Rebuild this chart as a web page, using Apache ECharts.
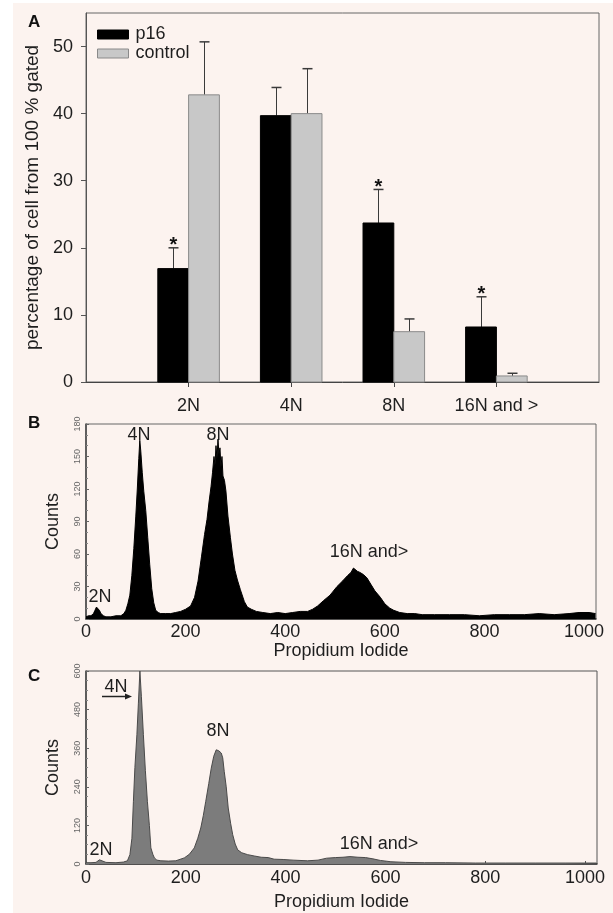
<!DOCTYPE html>
<html>
<head>
<meta charset="utf-8">
<script src="https://cdn.jsdelivr.net/npm/echarts@6/dist/echarts.min.js"></script>
<style>
html, body { margin: 0; padding: 0; background: #fff; }
#main { width: 613px; height: 913px; }
</style>
</head>
<body>
<div id="main"></div>
<script>
// panel A: percentage of gated cells per ploidy class
var categories = ['2N', '4N', '8N', '16N and >'];
var p16Values = [16.9, 39.7, 23.7, 8.2];
var p16Errors = [3.1, 4.2, 5.0, 4.5];
var p16Star = [true, false, true, true];
var controlValues = [42.8, 40.0, 7.5, 0.9];
var controlErrors = [7.9, 6.7, 1.9, 0.4];
var controlStar = [false, false, false, false];
var pctTicks = [0, 10, 20, 30, 40, 50];

// panel B: p16 histogram (channel, counts)
var histBChannel = [
  0, 5, 10, 15, 18, 21, 24, 27, 30, 35,
  40, 50, 60, 70, 76, 80, 84, 88, 92, 96,
  100, 103, 106, 108, 110, 113, 116, 120, 124, 128,
  132, 136, 140, 145, 150, 160, 170, 180, 190, 200,
  210, 218, 225, 232, 238, 243, 247, 251, 254, 257,
  259, 261, 263, 265, 267, 269, 271, 273, 275, 278,
  281, 285, 290, 294, 299, 304, 310, 318, 324, 332,
  342, 355, 370, 385, 400, 415, 430, 445, 455, 465,
  477, 490, 504, 515, 525, 532, 537, 541, 545, 550,
  557, 564, 572, 580, 591, 600, 610, 618, 630, 645,
  660, 675, 700, 730, 760, 790, 820, 850, 880, 910,
  940, 970, 990, 1010, 1023
];
var histBCounts = [
  2, 3, 3, 5, 8, 11, 11, 8, 5, 3,
  2, 2, 3, 3, 5, 8, 14, 22, 40, 65,
  95, 120, 148, 165, 155, 135, 118, 100, 75, 50,
  28, 15, 8, 6, 5, 5, 5, 6, 7, 9,
  12, 20, 35, 58, 78, 92, 108, 122, 135, 150,
  142, 160, 148, 166, 152, 158, 140, 150, 132, 128,
  118, 95, 75, 60, 45, 36, 27, 16, 11, 9,
  7, 6, 5, 6, 5, 6, 7, 7, 9, 12,
  17, 22, 30, 35, 40, 43, 47, 48, 44, 43,
  41, 38, 32, 26, 20, 14, 10, 8, 6, 5,
  5, 4, 4, 4, 4, 3, 4, 4, 4, 5,
  4, 5, 6, 6, 5
];

// panel C: control histogram (channel, counts)
var histCChannel = [
  0, 10, 20, 24, 27, 30, 40, 60, 75, 83,
  88, 92, 95, 98, 102, 105, 108, 111, 115, 119,
  123, 127, 130, 134, 137, 142, 150, 165, 180, 197,
  207, 217, 224, 230, 235, 240, 246, 251, 256, 261,
  264, 266, 268, 271, 274, 277, 281, 285, 290, 294,
  299, 304, 312, 324, 337, 351, 365, 377, 395, 415,
  444, 465, 482, 500, 515, 529, 545, 560, 575, 590,
  611, 640, 678, 720, 780, 840, 900, 960, 1023
];
var histCCounts = [
  4, 4, 5, 10, 13, 8, 5, 4, 6, 10,
  29, 80, 195, 300, 402, 500, 600, 520, 402, 290,
  195, 120, 50, 30, 19, 12, 10, 9, 10, 19,
  30, 50, 80, 112, 150, 195, 250, 298, 335, 355,
  360, 352, 358, 345, 330, 288, 240, 174, 125, 91,
  62, 44, 35, 29, 25, 21, 20, 15, 14, 12,
  10, 12, 18, 20, 21, 23, 21, 20, 16, 11,
  7, 5, 4, 4, 3, 3, 3, 3, 3
];
var channelTicks = [0, 200, 400, 600, 800, 1000];

var FONT = 'Liberation Sans, Arial, sans-serif';
var TXT = '#1e1e1e';

function pairs(xs, ys) {
  return xs.map(function (x, i) { return [x, ys[i]]; });
}

function plain(v) { return String(v); }

// bar + upper error bar + asterisk
function barItem(side, fill, stroke, errors, stars) {
  return function (params, api) {
    var i = params.dataIndex;
    var x = api.value(0), v = api.value(1);
    var x0 = side < 0 ? x - 0.3 : x;
    var x1 = side < 0 ? x : x + 0.3;
    var pTop = api.coord([x0, v]);
    var pBot = api.coord([x1, 0]);
    var pErr = api.coord([(x0 + x1) / 2, v + errors[i]]);
    var cx = Math.round(pErr[0]) + 0.5;
    var children = [
      { type: 'line', shape: { x1: cx, y1: pTop[1], x2: cx, y2: pErr[1] }, style: { stroke: '#3a3a3a', lineWidth: 1 } },
      { type: 'line', shape: { x1: cx - 5, y1: pErr[1], x2: cx + 5, y2: pErr[1] }, style: { stroke: '#3a3a3a', lineWidth: 1.5 } },
      { type: 'rect', shape: { x: pTop[0], y: pTop[1], width: pBot[0] - pTop[0], height: pBot[1] - pTop[1] },
        style: { fill: fill, stroke: stroke, lineWidth: 1 } }
    ];
    if (stars[i]) {
      children.push({ type: 'text', x: cx, y: pErr[1] - 2,
        style: { text: '*', font: 'bold 20px ' + FONT, fill: '#111', align: 'center', verticalAlign: 'middle' } });
    }
    return { type: 'group', children: children };
  };
}

var myChart = echarts.init(document.getElementById('main'), null, { renderer: 'canvas' });

var option = {
  backgroundColor: '#fff',
  animation: false,
  textStyle: { fontFamily: FONT },
  graphic: [
    { type: 'rect', z: -10, silent: true, shape: { x: 13, y: 3, width: 600, height: 910 }, style: { fill: '#fcf3ef' } },
    { type: 'text', x: 28, y: 14, style: { text: 'A', font: 'bold 17px ' + FONT, fill: '#111' } },
    { type: 'text', x: 28, y: 415, style: { text: 'B', font: 'bold 17px ' + FONT, fill: '#111' } },
    { type: 'text', x: 28, y: 668, style: { text: 'C', font: 'bold 17px ' + FONT, fill: '#111' } },
    // panel B peak labels
    { type: 'text', x: 139, y: 435, style: { text: '4N', font: '18px ' + FONT, fill: TXT, align: 'center', verticalAlign: 'middle' } },
    { type: 'text', x: 218, y: 435, style: { text: '8N', font: '18px ' + FONT, fill: TXT, align: 'center', verticalAlign: 'middle' } },
    { type: 'text', x: 100, y: 597, style: { text: '2N', font: '18px ' + FONT, fill: TXT, align: 'center', verticalAlign: 'middle' } },
    { type: 'text', x: 369, y: 552, style: { text: '16N and>', font: '18px ' + FONT, fill: TXT, align: 'center', verticalAlign: 'middle' } },
    // panel C peak labels
    { type: 'text', x: 116, y: 687, style: { text: '4N', font: '18px ' + FONT, fill: TXT, align: 'center', verticalAlign: 'middle' } },
    { type: 'line', shape: { x1: 102, y1: 696.5, x2: 127, y2: 696.5 }, style: { stroke: '#222', lineWidth: 1.5 } },
    { type: 'polygon', shape: { points: [[125, 693.5], [132, 696.5], [125, 699.5]] }, style: { fill: '#222' } },
    { type: 'text', x: 218, y: 731, style: { text: '8N', font: '18px ' + FONT, fill: TXT, align: 'center', verticalAlign: 'middle' } },
    { type: 'text', x: 101, y: 850, style: { text: '2N', font: '18px ' + FONT, fill: TXT, align: 'center', verticalAlign: 'middle' } },
    { type: 'text', x: 379, y: 844, style: { text: '16N and>', font: '18px ' + FONT, fill: TXT, align: 'center', verticalAlign: 'middle' } }
  ],
  legend: {
    data: [
      { name: 'p16', itemStyle: { color: '#000', borderColor: '#000', borderWidth: 1 } },
      { name: 'control', itemStyle: { color: '#c8c8c8', borderColor: '#8a8a8a', borderWidth: 1 } }
    ],
    orient: 'vertical',
    left: 97,
    top: 25,
    padding: 0,
    icon: 'rect',
    itemWidth: 31,
    itemHeight: 9,
    itemGap: 0,
    selectedMode: false,
    textStyle: { fontSize: 18, color: TXT, lineHeight: 19, padding: [0, 0, 0, 2] }
  },
  grid: [
    { left: 86, top: 13, width: 513, height: 369, show: true, borderColor: '#666', borderWidth: 1, containLabel: false },
    { left: 86, top: 424, width: 510, height: 195, show: true, borderColor: '#666', borderWidth: 1, containLabel: false },
    { left: 86, top: 671, width: 511, height: 193, show: true, borderColor: '#555', borderWidth: 1, containLabel: false }
  ],
  xAxis: [
    {
      gridIndex: 0, type: 'value', min: 0, max: 5, interval: 1,
      axisLine: { lineStyle: { color: '#444', width: 1 } },
      axisTick: { customValues: [1, 2, 3, 4], length: 5, lineStyle: { color: '#444' } },
      axisLabel: { customValues: [1, 2, 3, 4], margin: 15, fontSize: 18, color: TXT,
        formatter: function (v) { return categories[v - 1] || ''; } },
      splitLine: { show: false }
    },
    {
      gridIndex: 1, type: 'value', min: 0, max: 1024, interval: 200,
      name: 'Propidium Iodide', nameLocation: 'middle', nameGap: 22,
      nameTextStyle: { fontSize: 18, color: TXT },
      axisLine: { lineStyle: { color: '#333', width: 1.5 } },
      axisTick: { customValues: channelTicks, inside: true, length: 3, lineStyle: { color: '#555' } },
      axisLabel: { customValues: channelTicks, margin: 4, fontSize: 18, color: TXT, formatter: plain },
      splitLine: { show: false }
    },
    {
      gridIndex: 2, type: 'value', min: 0, max: 1024, interval: 200,
      name: 'Propidium Iodide', nameLocation: 'middle', nameGap: 29,
      nameTextStyle: { fontSize: 18, color: TXT },
      axisLine: { lineStyle: { color: '#333', width: 1.5 } },
      axisTick: { customValues: channelTicks, inside: true, length: 3, lineStyle: { color: '#555' } },
      axisLabel: { customValues: channelTicks, margin: 5, fontSize: 18, color: TXT, formatter: plain },
      splitLine: { show: false }
    }
  ],
  yAxis: [
    {
      gridIndex: 0, type: 'value', min: 0, max: 55, interval: 10,
      name: 'percentage of cell from 100 % gated', nameLocation: 'middle', nameGap: 40,
      nameTextStyle: { fontSize: 19, color: TXT },
      axisLine: { show: true, lineStyle: { color: '#555', width: 1 } },
      axisTick: { show: true, customValues: pctTicks, length: 5, lineStyle: { color: '#555' } },
      axisLabel: { customValues: pctTicks, margin: 13, fontSize: 18, color: TXT },
      splitLine: { show: false }
    },
    {
      gridIndex: 1, type: 'value', min: 0, max: 180, interval: 30,
      name: 'Counts', nameLocation: 'middle', nameGap: 24,
      nameTextStyle: { fontSize: 18, color: TXT },
      axisLine: { show: true, lineStyle: { color: '#444', width: 1.5 } },
      axisTick: { show: true, inside: true, length: 3, lineStyle: { color: '#666' } },
      minorTick: { show: true, splitNumber: 3, length: 2, lineStyle: { color: '#888' } },
      axisLabel: { rotate: 90, margin: 4, fontSize: 9, color: '#666' },
      splitLine: { show: false }
    },
    {
      gridIndex: 2, type: 'value', min: 0, max: 600, interval: 120,
      name: 'Counts', nameLocation: 'middle', nameGap: 24,
      nameTextStyle: { fontSize: 18, color: TXT },
      axisLine: { show: true, lineStyle: { color: '#444', width: 1.5 } },
      axisTick: { show: true, inside: true, length: 3, lineStyle: { color: '#666' } },
      minorTick: { show: true, splitNumber: 4, length: 2, lineStyle: { color: '#888' } },
      axisLabel: { rotate: 90, margin: 4, fontSize: 9, color: '#666' },
      splitLine: { show: false }
    }
  ],
  series: [
    {
      name: 'p16', type: 'custom', xAxisIndex: 0, yAxisIndex: 0,
      itemStyle: { color: '#000', borderColor: '#000' },
      renderItem: barItem(-1, '#000', '#000', p16Errors, p16Star),
      encode: { x: 0, y: 1 },
      data: p16Values.map(function (v, i) { return [i + 1, v]; })
    },
    {
      name: 'control', type: 'custom', xAxisIndex: 0, yAxisIndex: 0,
      itemStyle: { color: '#c8c8c8', borderColor: '#8a8a8a' },
      renderItem: barItem(1, '#c8c8c8', '#8a8a8a', controlErrors, controlStar),
      encode: { x: 0, y: 1 },
      data: controlValues.map(function (v, i) { return [i + 1, v]; })
    },
    {
      name: 'p16 histogram', type: 'line', xAxisIndex: 1, yAxisIndex: 1,
      showSymbol: false, symbol: 'none',
      lineStyle: { color: '#000', width: 1 },
      areaStyle: { color: '#000', opacity: 1 },
      data: pairs(histBChannel, histBCounts)
    },
    {
      name: 'control histogram', type: 'line', xAxisIndex: 2, yAxisIndex: 2,
      showSymbol: false, symbol: 'none',
      lineStyle: { color: '#4a4a4a', width: 1 },
      areaStyle: { color: '#7c7c7c', opacity: 1 },
      data: pairs(histCChannel, histCCounts)
    }
  ]
};

myChart.setOption(option);
</script>
</body>
</html>
